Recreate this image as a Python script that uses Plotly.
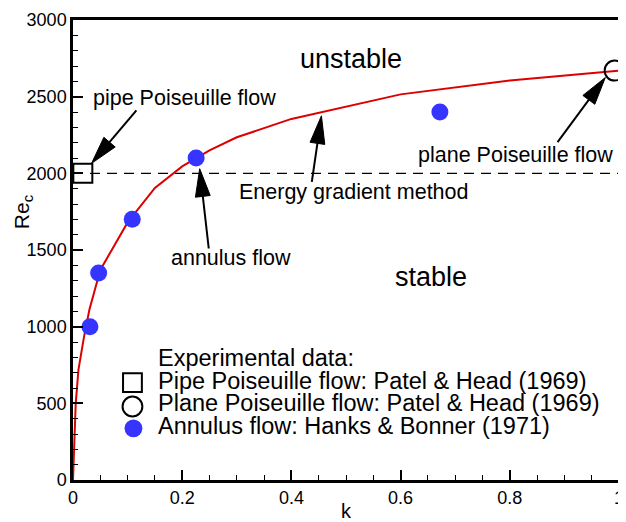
import math
import plotly.graph_objects as go

# ---------------- data ----------------
curve_k = [0, 0.002, 0.005, 0.01, 0.02, 0.03, 0.05, 0.1, 0.15, 0.2, 0.25, 0.3, 0.4, 0.6, 0.8, 1.0]
curve_re = [0, 260, 500, 720, 930, 1110, 1370, 1680, 1905, 2045, 2150, 2235, 2355, 2515, 2605, 2670]

dash_k = [0, 1]
dash_re = [2000, 2000]

pipe_k = [0.018]
pipe_re = [2000]

plane_k = [0.992]
plane_re = [2670]

annulus_k = [0.031, 0.047, 0.1085, 0.2255, 0.672]
annulus_re = [1000, 1350, 1700, 2100, 2400]

x_tickvals = [0, 0.2, 0.4, 0.6, 0.8, 1]
x_ticktext = ["0", "0.2", "0.4", "0.6", "0.8", "1"]
y_tickvals = [0, 500, 1000, 1500, 2000, 2500, 3000]
y_ticktext = ["0", "500", "1000", "1500", "2000", "2500", "3000"]

legend_title = "Experimental data:"
legend_labels = ["Pipe Poiseuille flow: Patel & Head (1969)",
                 "Plane Poiseuille flow: Patel & Head (1969)",
                 "Annulus flow: Hanks & Bonner (1971)"]

# ---------------- layout geometry ----------------
W, H = 626, 522       # window size
BODY = 8              # default page margin around the plot div
X0, X1 = 73, 624      # window pixel x of plot left/right
Y0, Y1 = 480, 17      # window pixel y of plot bottom/top
FONT = "Liberation Sans, Arial, Helvetica, sans-serif"
BLUE = "#3535ff"
RED = "#dd0000"


def paper(px, py):
    return (px - X0) / (X1 - X0), (Y0 - py) / (Y0 - Y1)


def to_px(k, re):
    return X0 + (X1 - X0) * k, Y0 - (Y0 - Y1) * re / 3000.0


annotations = []
shapes = []


def text(s, px, py, size, xanchor="center"):
    x, y = paper(px, py)
    annotations.append(dict(text=s, x=x, y=y, xref="paper", yref="paper",
                            xanchor=xanchor, yanchor="middle", showarrow=False,
                            font=dict(family=FONT, size=size, color="black")))


def arrow(tail, tip, head_len=28, head_w=15, lw=2):
    (tx, ty), (hx, hy) = tail, tip
    dx, dy = hx - tx, hy - ty
    L = math.hypot(dx, dy)
    ux, uy = dx / L, dy / L
    nx, ny = -uy, ux
    bx, by = hx - ux * head_len, hy - uy * head_len
    a = paper(tx, ty)
    b = paper(bx + ux * 3, by + uy * 3)
    shapes.append(dict(type="line", xref="paper", yref="paper",
                       x0=a[0], y0=a[1], x1=b[0], y1=b[1],
                       line=dict(color="black", width=lw)))
    p1 = paper(hx, hy)
    p2 = paper(bx + nx * head_w / 2, by + ny * head_w / 2)
    p3 = paper(bx - nx * head_w / 2, by - ny * head_w / 2)
    path = "M{},{} L{},{} L{},{} Z".format(p1[0], p1[1], p2[0], p2[1], p3[0], p3[1])
    shapes.append(dict(type="path", xref="paper", yref="paper", path=path,
                       fillcolor="black", line=dict(color="black", width=1)))


# region labels
text("unstable", 354, 56, 27)
text("stable", 434, 276, 27)

# callouts
text("pipe Poiseuille flow", 186, 96, 21.5)
arrow(tail=(137, 108), tip=to_px(0.034, 2065))
text("annulus flow", 232, 257, 21.5)
arrow(tail=(210, 247), tip=to_px(0.232, 2030))
text("Energy gradient method", 356, 190, 21.5)
arrow(tail=(314, 180), tip=to_px(0.455, 2375))
text("plane Poiseuille flow", 520, 153, 21.5)
arrow(tail=(562, 140), tip=to_px(0.975, 2625))

# axis titles
text("k", 348.5, 511, 20)
x, y = paper(22, 210)
annotations.append(dict(text="Re<sub>c</sub>", x=x, y=y, xref="paper", yref="paper",
                        textangle=-90, showarrow=False, xanchor="center", yanchor="middle",
                        font=dict(family=FONT, size=21, color="black")))

# manual legend
text(legend_title, 157, 357, 23.5, xanchor="left")
leg_y = [380, 403, 426]
for lab, yy in zip(legend_labels, leg_y):
    text(lab, 157, yy, 23.5, xanchor="left")
# key symbols
cx = 133
a, b = paper(cx - 9.5, leg_y[0] + 2 - 9.5), paper(cx + 9.5, leg_y[0] + 2 + 9.5)
shapes.append(dict(type="rect", xref="paper", yref="paper", x0=a[0], y0=a[1], x1=b[0], y1=b[1],
                   line=dict(color="black", width=2), fillcolor="rgba(0,0,0,0)"))
a, b = paper(cx - 10, leg_y[1] + 3 - 10), paper(cx + 10, leg_y[1] + 3 + 10)
shapes.append(dict(type="circle", xref="paper", yref="paper", x0=a[0], y0=a[1], x1=b[0], y1=b[1],
                   line=dict(color="black", width=2), fillcolor="rgba(0,0,0,0)"))
a, b = paper(cx + 1 - 9, leg_y[2] + 2 - 9), paper(cx + 1 + 9, leg_y[2] + 2 + 9)
shapes.append(dict(type="circle", xref="paper", yref="paper", x0=a[0], y0=a[1], x1=b[0], y1=b[1],
                   line=dict(color=BLUE, width=0), fillcolor=BLUE))

# ---------------- traces ----------------
fig = go.Figure()
fig.add_trace(go.Scatter(x=dash_k, y=dash_re, mode="lines",
                         line=dict(color="black", width=1.2, dash="10px,7px"),
                         showlegend=False, hoverinfo="skip"))
fig.add_trace(go.Scatter(x=curve_k, y=curve_re, mode="lines",
                         line=dict(color=RED, width=2), showlegend=False))
fig.add_trace(go.Scatter(x=pipe_k, y=pipe_re, mode="markers",
                         marker=dict(symbol="square-open", size=19, color="black",
                                     line=dict(width=2, color="black")),
                         showlegend=False, cliponaxis=False))
fig.add_trace(go.Scatter(x=plane_k, y=plane_re, mode="markers",
                         marker=dict(symbol="circle-open", size=20, color="black",
                                     line=dict(width=2, color="black")),
                         showlegend=False, cliponaxis=False))
fig.add_trace(go.Scatter(x=annulus_k, y=annulus_re, mode="markers",
                         marker=dict(symbol="circle", size=17, color=BLUE,
                                     line=dict(width=0)),
                         showlegend=False, cliponaxis=False))

axis_common = dict(showgrid=False, zeroline=False, showline=True, linecolor="black",
                   linewidth=2.5, mirror=True, ticks="inside", ticklen=10, tickwidth=2,
                   tickcolor="black", ticklabeloverflow="allow",
                   tickfont=dict(family=FONT, size=18, color="black"))

fig.update_layout(
    width=W - BODY, height=H - BODY,
    margin=dict(l=X0 - BODY, r=W - X1, t=Y1 - BODY, b=H - Y0, pad=0),
    paper_bgcolor="white", plot_bgcolor="white",
    showlegend=False,
    annotations=annotations, shapes=shapes,
    xaxis=dict(range=[0, 1], tickvals=x_tickvals, ticktext=x_ticktext,
               minor=dict(tick0=0, dtick=0.05, ticks="inside", ticklen=5, tickwidth=1.2,
                          tickcolor="black"),
               **axis_common),
    yaxis=dict(range=[0, 3000], tickvals=y_tickvals, ticktext=y_ticktext,
               minor=dict(tick0=0, dtick=100, ticks="inside", ticklen=5, tickwidth=1.2,
                          tickcolor="black"),
               **axis_common),
)

fig.write_html("out.html")
